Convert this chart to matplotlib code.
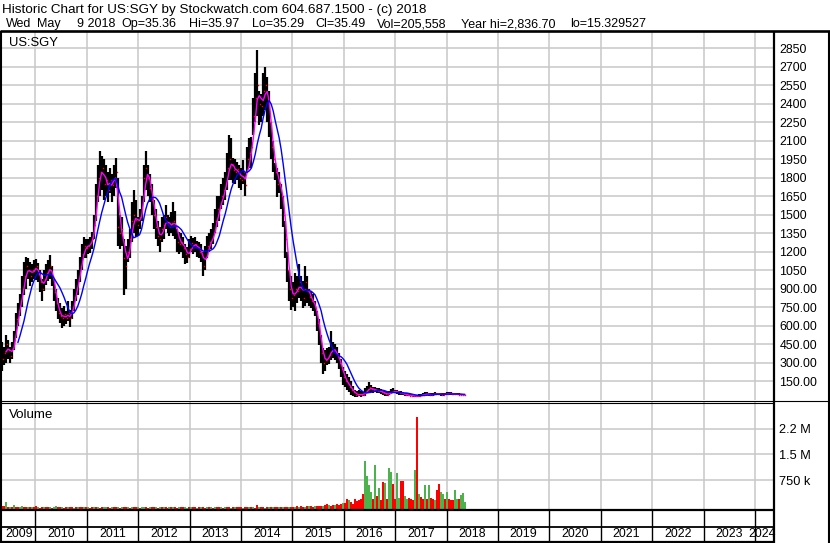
import numpy as np
import pandas as pd
import matplotlib
matplotlib.use('Agg')
import matplotlib.pyplot as plt
import matplotlib.dates as mdates
from matplotlib.lines import Line2D

plt.rcParams['font.family'] = ['Liberation Sans', 'DejaVu Sans']

# ---------------- data ----------------
start_date = '2009-05-08'
end_date = '2018-05-09'

price_low = [230, 280, 300, 330, 300, 330, 400, 500, 600, 680,
             750, 850, 900, 980, 920, 950, 980, 970, 950, 870,
             800, 880, 930, 960, 980, 920, 800, 720, 650, 620,
             580, 600, 610, 640, 590, 650, 720, 800, 850, 950,
             1050, 1150, 1150, 1180, 1190, 1220, 1300, 1450, 1600, 1650,
             1700, 1620, 1650, 1600, 1680, 1600, 1650, 1720, 1250, 1220,
             1250, 850, 900, 1120, 1150, 1280, 1350, 1320, 1330, 1380,
             1450, 1600, 1700, 1650, 1600, 1500, 1380, 1300, 1250, 1200,
             1280, 1300, 1380, 1350, 1330, 1350, 1330, 1300, 1200, 1180,
             1200, 1150, 1100, 1110, 1150, 1200, 1180, 1200, 1160, 1150,
             1120, 1000, 1050, 1150, 1200, 1220, 1260, 1350, 1400, 1450,
             1550, 1580, 1620, 1700, 1780, 1780, 1760, 1750, 1780, 1720,
             1700, 1750, 1650, 1850, 1880, 1880, 2150, 2250, 2300, 2230,
             2250, 2300, 2350, 2250, 2130, 1950, 1850, 1780, 1640, 1680,
             1550, 1400, 1150, 950, 800, 730, 750, 720, 780, 820,
             800, 740, 760, 780, 760, 740, 720, 680, 560, 440,
             300, 210, 230, 280, 290, 320, 340, 320, 300, 250,
             180, 120, 100, 80, 60, 40, 30, 20, 20, 25,
             20, 25, 30, 50, 60, 60, 55, 60, 55, 50,
             45, 40, 30, 30, 35, 45, 50, 50, 45, 40,
             40, 35, 30, 25, 25, 25, 22, 20, 20, 22,
             25, 30, 35, 35, 30, 25, 30, 35, 35, 35,
             30, 30, 35, 38, 40, 40, 38, 35, 35, 33,
             33, 33, 33]

price_high = [470, 430, 520, 480, 430, 470, 560, 700, 780, 860,
              1000, 1120, 1160, 1150, 1120, 1100, 1130, 1140, 1110, 1050,
              980, 1050, 1100, 1130, 1170, 1080, 980, 900, 820, 780,
              740, 760, 720, 800, 730, 800, 900, 980, 1050, 1160,
              1260, 1320, 1300, 1300, 1320, 1360, 1500, 1750, 1900, 2020,
              1980, 1950, 1900, 1850, 1880, 1830, 1900, 1960, 1800, 1500,
              1480, 1300, 1250, 1300, 1380, 1600, 1700, 1620, 1480, 1550,
              1650, 1900, 2020, 1900, 1830, 1750, 1620, 1550, 1450, 1400,
              1480, 1500, 1580, 1500, 1480, 1520, 1600, 1530, 1380, 1360,
              1350, 1320, 1260, 1240, 1300, 1330, 1310, 1320, 1290, 1280,
              1260, 1200, 1250, 1330, 1350, 1380, 1430, 1550, 1650, 1650,
              1750, 1800, 1850, 2000, 2150, 2120, 1960, 1950, 1930, 1900,
              1880, 1940, 1850, 2050, 2120, 2130, 2450, 2650, 2836, 2500,
              2480, 2650, 2700, 2620, 2500, 2250, 2100, 1920, 1880, 1850,
              1750, 1650, 1450, 1200, 1050, 1000, 950, 1030, 1000, 1100,
              1000, 960, 1080, 1000, 900, 880, 860, 800, 720, 650,
              520, 420, 400, 420, 430, 560, 470, 450, 430, 380,
              330, 260, 230, 210, 180, 150, 110, 80, 70, 80,
              70, 60, 90, 110, 140, 120, 100, 105, 95, 90,
              85, 80, 70, 60, 70, 85, 90, 80, 75, 70,
              65, 60, 55, 50, 45, 45, 42, 40, 40, 42,
              48, 55, 60, 60, 55, 50, 55, 58, 55, 55,
              50, 50, 55, 58, 60, 60, 55, 55, 52, 50,
              48, 45, 40]

price_close = [330, 380, 450, 400, 350, 420, 480, 650, 720, 800,
               900, 1000, 1080, 1050, 1000, 1050, 1060, 1080, 1020, 950,
               900, 980, 1030, 1050, 1080, 1000, 870, 780, 700, 680,
               660, 690, 660, 700, 660, 740, 830, 900, 980, 1080,
               1180, 1250, 1230, 1250, 1270, 1300, 1420, 1650, 1800, 1850,
               1880, 1750, 1780, 1700, 1780, 1740, 1800, 1850, 1400, 1350,
               1380, 1150, 1080, 1200, 1300, 1450, 1500, 1460, 1420, 1480,
               1550, 1800, 1880, 1800, 1720, 1620, 1500, 1400, 1330, 1300,
               1380, 1420, 1480, 1420, 1400, 1430, 1450, 1400, 1280, 1260,
               1280, 1230, 1180, 1160, 1220, 1270, 1240, 1260, 1230, 1200,
               1180, 1080, 1150, 1250, 1280, 1300, 1350, 1450, 1550, 1560,
               1650, 1700, 1750, 1880, 1950, 1900, 1860, 1850, 1870, 1800,
               1780, 1850, 1740, 1950, 2000, 2050, 2300, 2450, 2550, 2400,
               2380, 2500, 2550, 2450, 2250, 2050, 1950, 1850, 1750, 1760,
               1650, 1500, 1300, 1050, 900, 820, 850, 900, 880, 950,
               900, 820, 950, 880, 830, 800, 780, 740, 620, 520,
               380, 300, 320, 340, 360, 430, 400, 380, 350, 300,
               250, 180, 150, 130, 100, 80, 60, 40, 35, 45,
               40, 40, 60, 80, 100, 85, 75, 80, 70, 70,
               60, 55, 45, 40, 50, 60, 65, 65, 60, 55,
               50, 45, 40, 35, 32, 32, 30, 28, 28, 30,
               35, 40, 45, 45, 40, 38, 42, 45, 45, 45,
               40, 40, 45, 48, 50, 48, 45, 42, 42, 40,
               38, 36, 35.5]

volume_k = [100, 80, 200, 70, 60, 55, 120, 70, 60, 50, 80, 60, 45, 70, 55, 50, 60, 80, 50, 40,
            50, 60, 45, 70, 55, 40, 60, 75, 50, 45, 60, 40, 55, 50, 65, 45, 40, 55, 60, 50,
            45, 60, 50, 70, 40, 55, 45, 60, 50, 40, 55, 65, 45, 50, 40, 60, 45, 55, 50, 40,
            55, 45, 60, 50, 40, 55, 45, 50, 60, 40, 45, 55, 50, 40, 60, 45, 50, 55, 40, 45,
            60, 45, 50, 40, 55, 45, 60, 50, 40, 45, 55, 50, 60, 40, 45, 50, 55, 45, 40, 50,
            45, 55, 40, 50, 60, 45, 40, 55, 50, 45, 60, 40, 50, 45, 55, 40, 50, 45, 60, 50,
            45, 40, 55, 50, 45, 60, 50, 40, 110, 45, 55, 50, 40, 60, 45, 50, 55, 45, 60, 50,
            55, 45, 60, 50, 65, 55, 70, 60, 75, 65, 80, 70, 60, 90, 75, 85, 70, 95, 80, 90,
            100, 85, 110, 145, 120, 100, 130, 115, 140, 125, 150, 160, 180,
            290, 270, 200, 150, 280, 220, 260, 300, 450, 1386,
            950, 700, 500, 300, 1290, 380, 620, 260, 790, 750,
            280, 1190, 1080, 720, 280, 1050, 330, 810, 800, 380,
            300, 320, 300, 260, 1140, 2660, 430, 350, 300, 690,
            280, 690, 320, 300, 250, 540, 730, 500, 450, 280,
            500, 280, 270, 260, 550, 300, 290, 400, 470, 205]

volume_up = [0, 0, 1, 0, 1, 0, 1, 0, 0, 1, 1, 0, 0, 1, 0, 1, 0, 0, 1, 0,
             0, 1, 0, 0, 1, 0, 1, 1, 0, 0, 1, 0, 0, 1, 0, 0, 1, 0, 1, 0,
             0, 1, 0, 1, 0, 0, 1, 0, 1, 0, 0, 1, 1, 0, 0, 1, 0, 0, 1, 0,
             1, 0, 0, 1, 0, 1, 0, 0, 1, 0, 1, 1, 0, 0, 1, 0, 0, 1, 0, 1,
             0, 1, 0, 0, 1, 0, 1, 0, 0, 1, 0, 0, 1, 1, 0, 1, 0, 0, 1, 0,
             1, 0, 0, 1, 0, 1, 0, 1, 0, 0, 1, 0, 1, 0, 0, 1, 0, 1, 0, 0,
             0, 1, 0, 0, 1, 0, 1, 0, 0, 1, 0, 0, 1, 0, 1, 0, 1, 0, 0, 1,
             0, 1, 0, 0, 1, 0, 0, 1, 0, 1, 0, 0, 1, 0, 1, 0, 0, 1, 0, 0,
             0, 1, 0, 0, 1, 0, 0, 1, 0, 0, 0, 1, 0,
             0, 1, 0, 0, 0, 0, 0, 0, 0, 1,
             1, 1, 1, 0, 1, 0, 1, 0, 0, 1,
             0, 1, 1, 0, 0, 1, 1, 0, 0, 1,
             1, 0, 0, 0, 1, 0, 1, 0, 0, 1,
             0, 1, 0, 0, 1, 0, 0, 1, 1, 0,
             1, 0, 0, 0, 1, 1, 0, 1, 1, 1]

price_ticks = [150, 300, 450, 600, 750, 900, 1050, 1200, 1350, 1500,
               1650, 1800, 1950, 2100, 2250, 2400, 2550, 2700, 2850]
price_tick_labels = ['150.00', '300.00', '450.00', '600.00', '750.00', '900.00',
                     '1050', '1200', '1350', '1500', '1650', '1800', '1950',
                     '2100', '2250', '2400', '2550', '2700', '2850']
volume_ticks = [750000, 1500000, 2250000]
volume_tick_labels = ['750 k', '1.5 M', '2.2 M']
years = list(range(2009, 2025))

title_line1 = 'Historic Chart for US:SGY by Stockwatch.com 604.687.1500 - (c) 2018'
title_line2_items = ['Wed', 'May', '9 2018', 'Op=35.36', 'Hi=35.97', 'Lo=35.29',
                     'Cl=35.49', 'Vol=205,558', 'Year hi=2,836.70', 'lo=15.329527']
symbol = 'US:SGY'

# ---------------- layout helpers (pixel -> figure fraction) ----------------
W, H = 830, 543
def fx(px):
    return px / W
def fy(py):
    return 1 - py / H

GRID = '#c8c8c8'
GREEN = '#4cb34c'
RED = '#ff0000'
FS = 8.9
FS_HEAD = 9.7
FS_HEAD2 = 9.0

dates = pd.date_range(start_date, end_date, periods=len(price_close))
dn = mdates.date2num(dates)
close_s = pd.Series(price_close, dtype=float)
ma_short = close_s.rolling(3).mean()
ma_long = close_s.rolling(9).mean()

x0 = mdates.date2num(pd.Timestamp(start_date))
px_per_day = 51.39 / 365.25
x_left_px, x_right_px = 2, 774
xlim = (x0, x0 + (x_right_px - x_left_px) / px_per_day)
year_bounds = [mdates.date2num(pd.Timestamp(f'{y}-01-01')) for y in years[1:]]

fig = plt.figure(figsize=(W / 100, H / 100), dpi=100)
fig.patch.set_facecolor('white')

# ---- price panel
ax_p = fig.add_axes([fx(2), fy(400), fx(774) - fx(2), fy(31) - fy(400)])
ax_p.set_xlim(*xlim)
ax_p.set_ylim(-4, 2991)
ax_p.set_xticks(year_bounds)
ax_p.set_yticks(price_ticks)
ax_p.grid(True, color=GRID, lw=1.1)
ax_p.set_axisbelow(True)
ax_p.yaxis.tick_right()
ax_p.set_yticklabels(price_tick_labels, fontsize=FS)
ax_p.tick_params(axis='y', length=0, pad=3.8)
ax_p.tick_params(axis='x', length=0, labelbottom=False)
for s in ax_p.spines.values():
    s.set_visible(False)

ax_p.vlines(dn, price_low, price_high, color='black', lw=1.6, zorder=2)
ax_p.plot(dn + 6, price_close, ls='none', marker='s', ms=1.0, mfc=RED, mec=RED,
          mew=0, zorder=3)
ax_p.plot(dn, ma_short, color='#ff00ff', lw=1.0, zorder=4)
ax_p.plot(dn, ma_long, color='#0000ff', lw=1.0, zorder=5)
fig.text(fx(9), fy(46), symbol, fontsize=9.4, va='baseline', ha='left')

# ---- volume panel
ax_v = fig.add_axes([fx(2), fy(509), fx(774) - fx(2), fy(402.3) - fy(509)])
ax_v.set_xlim(*xlim)
vol_bottom = -84000
ax_v.set_ylim(vol_bottom, 3017000)
ax_v.set_xticks(year_bounds)
ax_v.set_yticks(volume_ticks)
ax_v.grid(True, color=GRID, lw=1.1)
ax_v.set_axisbelow(True)
ax_v.yaxis.tick_right()
ax_v.set_yticklabels(volume_tick_labels, fontsize=9.2)
ax_v.tick_params(axis='y', length=0, pad=3.8)
ax_v.tick_params(axis='x', length=0, labelbottom=False)
for s in ax_v.spines.values():
    s.set_visible(False)
vol = np.array(volume_k) * 1000.0
vcols = [GREEN if u else RED for u in volume_up]
ax_v.bar(dn, vol, bottom=vol_bottom, width=2 / px_per_day, color=vcols, lw=0, zorder=2)
fig.text(fx(9), fy(418.5), 'Volume', fontsize=9.6, va='baseline', ha='left')

# ---- date band
ax_d = fig.add_axes([fx(2), fy(541.5), fx(774) - fx(2), fy(510) - fy(541.5)])
ax_d.set_xlim(*xlim)
ax_d.set_ylim(0, 1)
ax_d.axis('off')
ax_d.vlines(year_bounds, 0, 1, color='black', lw=1.0)
mid = (541.5 - 527) / 31.5
max_center = xlim[0] + (762 - x_left_px) / px_per_day
for y in years:
    a = max(mdates.date2num(pd.Timestamp(f'{y}-01-01')), xlim[0])
    b = min(mdates.date2num(pd.Timestamp(f'{y + 1}-01-01')), xlim[1])
    c = min((a + b) / 2, max_center)
    ax_d.text(c, mid / 2, str(y), fontsize=FS, ha='center', va='center',
              clip_on=False)

# ---- frame lines (in pixels)
def hline(y, xa, xb, lw):
    fig.add_artist(Line2D([fx(xa), fx(xb)], [fy(y), fy(y)], color='black', lw=lw,
                          transform=fig.transFigure, solid_capstyle='butt'))
def vline(x, ya, yb, lw):
    fig.add_artist(Line2D([fx(x), fx(x)], [fy(ya), fy(yb)], color='black', lw=lw,
                          transform=fig.transFigure, solid_capstyle='butt'))

hline(31, 0, 830, 1.9)
hline(400.5, 0, 829, 0.8)
hline(402.5, 0, 774, 0.8)
hline(509.8, 0, 774, 1.6)
hline(527, 0, 774, 1.3)
hline(541.8, 0, 774, 1.6)
vline(0.8, 31, 543, 1.5)
vline(774, 31, 543, 1.6)
vline(828.5, 31, 543, 1.5)

fig.text(fx(1.5), fy(12.7), title_line1, fontsize=FS_HEAD, va='baseline', ha='left')
item_x = [6, 36.7, 77, 121.7, 189, 252, 315, 377, 461, 570]
for tx, item in zip(item_x, title_line2_items):
    fig.text(fx(tx), fy(27.3), item, fontsize=FS_HEAD2, va='baseline', ha='left')

fig.savefig('out.png', dpi=100, facecolor='white')
